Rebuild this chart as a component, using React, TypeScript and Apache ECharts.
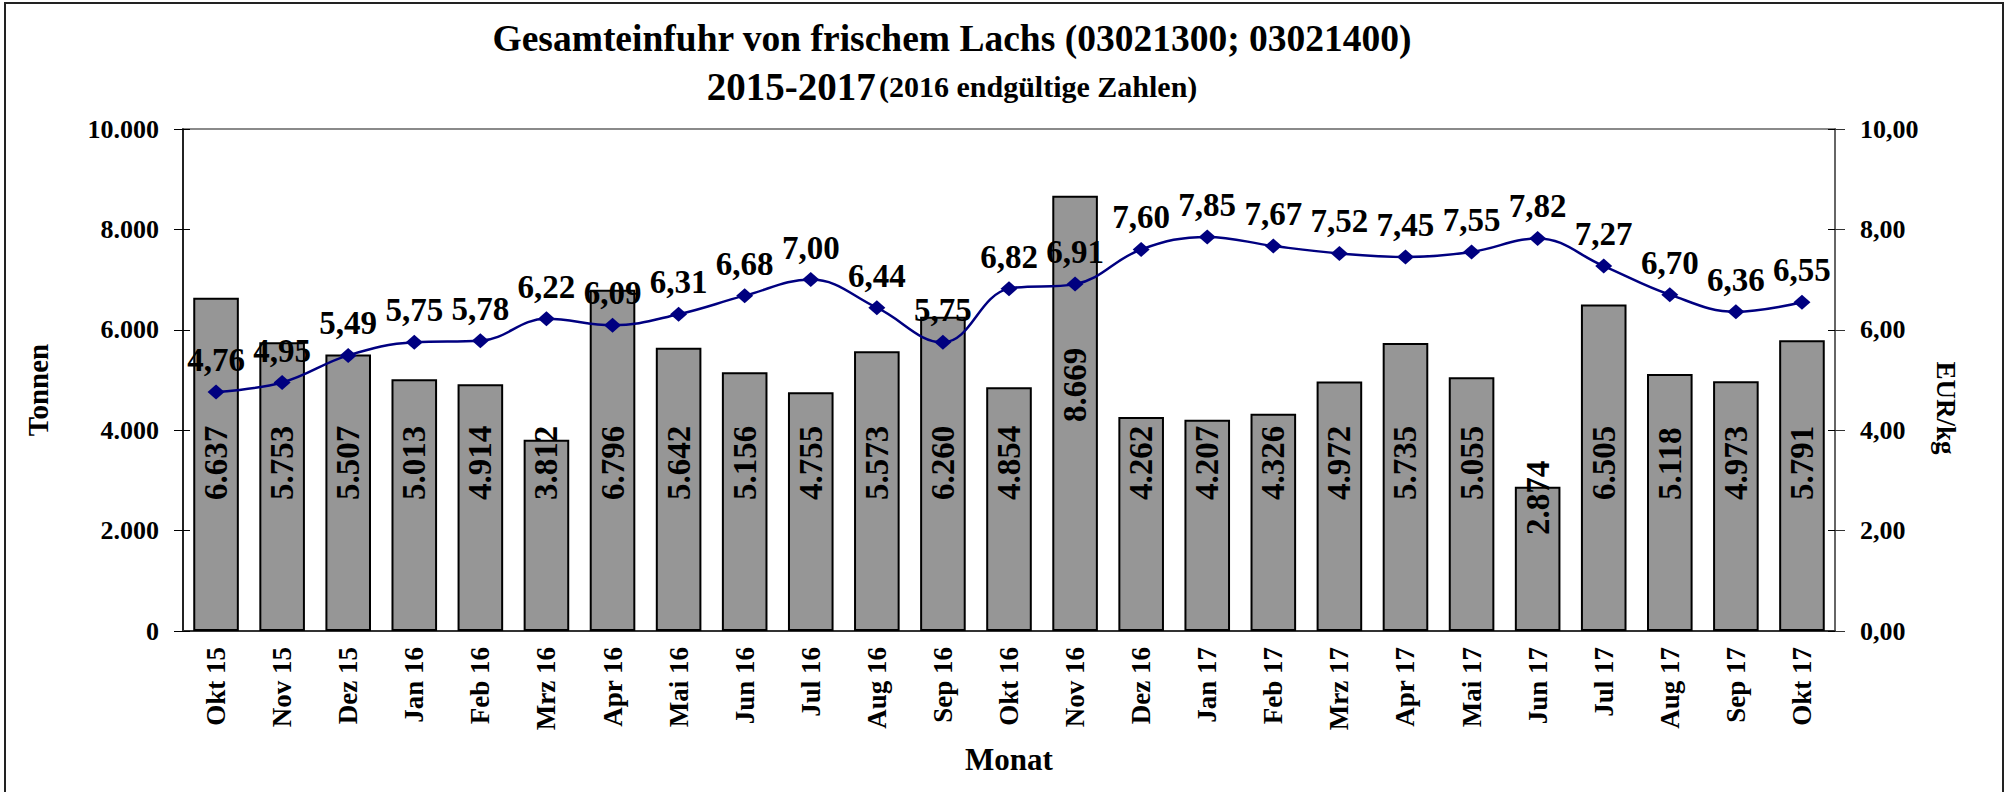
import React, { useEffect, useRef } from "react";
import * as echarts from "echarts";

const categories = [
  "Okt 15", "Nov 15", "Dez 15", "Jan 16", "Feb 16", "Mrz 16", "Apr 16", "Mai 16",
  "Jun 16", "Jul 16", "Aug 16", "Sep 16", "Okt 16", "Nov 16", "Dez 16", "Jan 17",
  "Feb 17", "Mrz 17", "Apr 17", "Mai 17", "Jun 17", "Jul 17", "Aug 17", "Sep 17", "Okt 17",
];
const tonnen = [
  6637, 5753, 5507, 5013, 4914, 3812, 6796, 5642, 5156, 4755, 5573, 6260, 4854,
  8669, 4262, 4207, 4326, 4972, 5735, 5055, 2874, 6505, 5118, 4973, 5791,
];
const preis = [
  4.76, 4.95, 5.49, 5.75, 5.78, 6.22, 6.09, 6.31, 6.68, 7.0, 6.44, 5.75, 6.82,
  6.91, 7.6, 7.85, 7.67, 7.52, 7.45, 7.55, 7.82, 7.27, 6.7, 6.36, 6.55,
];

const FONT = "'Liberation Serif', 'Times New Roman', serif";

const fmtThousands = (v: number) =>
  String(Math.round(v)).replace(/\B(?=(\d{3})+(?!\d))/g, ".");
const fmtComma = (v: number) => v.toFixed(2).replace(".", ",");

export default function App() {
  const ref = useRef<HTMLDivElement>(null);
  useEffect(() => {
    document.body.style.margin = "0";
    const chart = echarts.init(ref.current!, undefined, { renderer: "svg" });
    // label lift (px above the bar base) for the two bars whose labels were moved
    const labelLift: Record<number, number> = { 13: 209, 20: 96 };
    const barData = tonnen.map((v, i) =>
      labelLift[i] !== undefined
        ? { value: v, label: { offset: [labelLift[i], 0] } }
        : v
    );
    const innerTicks = (min: number, max: number, interval: number, position: string) => ({
      type: "value",
      min,
      max,
      interval,
      position,
      axisLine: { show: false },
      axisTick: { show: true, inside: true, length: 7, lineStyle: { color: "#000" } },
      axisLabel: { show: false },
      splitLine: { show: false },
    });
    chart.setOption({
      animation: false,
      backgroundColor: "#fff",
      graphic: [
        {
          type: "rect",
          shape: { x: 5, y: 3, width: 1998, height: 820 },
          style: { fill: "none", stroke: "#222", lineWidth: 2 },
          silent: true,
        },
        {
          type: "text",
          x: 952,
          y: 38,
          style: {
            text: "Gesamteinfuhr von frischem Lachs (03021300; 03021400)",
            fontFamily: FONT,
            fontWeight: "bold",
            fontSize: 37.5,
            fill: "#000",
            align: "center",
            verticalAlign: "middle",
          },
        },
        {
          type: "text",
          x: 952,
          y: 86,
          style: {
            text: "{a|2015-2017} {b|(2016 endgültige Zahlen)}",
            align: "center",
            verticalAlign: "middle",
            rich: {
              a: { fontFamily: FONT, fontWeight: "bold", fontSize: 39, fill: "#000" },
              b: { fontFamily: FONT, fontWeight: "bold", fontSize: 30, fill: "#000" },
            },
          },
        },
        {
          type: "text",
          x: 38,
          y: 390,
          rotation: Math.PI / 2,
          style: {
            text: "Tonnen",
            fontFamily: FONT,
            fontWeight: "bold",
            fontSize: 29,
            fill: "#000",
            align: "center",
            verticalAlign: "middle",
          },
        },
        {
          type: "text",
          x: 1946,
          y: 408,
          rotation: -Math.PI / 2,
          style: {
            text: "EUR/kg",
            fontFamily: FONT,
            fontWeight: "bold",
            fontSize: 27,
            fill: "#000",
            align: "center",
            verticalAlign: "middle",
          },
        },
      ],
      grid: {
        left: 183,
        right: 173,
        top: 129,
        bottom: 161,
        show: true,
        borderColor: "#8a8a8a",
        borderWidth: 2,
      },
      xAxis: {
        type: "category",
        data: categories,
        name: "Monat",
        nameLocation: "middle",
        nameGap: 113,
        nameTextStyle: { fontFamily: FONT, fontWeight: "bold", fontSize: 31, color: "#000" },
        axisLine: { lineStyle: { color: "#333", width: 2 } },
        axisTick: { show: false },
        axisLabel: {
          rotate: 90,
          margin: 16,
          fontFamily: FONT,
          fontWeight: "bold",
          fontSize: 27,
          color: "#000",
          interval: 0,
        },
      },
      yAxis: [
        {
          type: "value",
          min: 0,
          max: 10000,
          interval: 2000,
          position: "left",
          axisLine: { show: true, lineStyle: { color: "#000", width: 1.5 } },
          axisTick: { show: true, length: 9, lineStyle: { color: "#000" } },
          splitLine: { show: false },
          axisLabel: {
            margin: 24,
            fontFamily: FONT,
            fontWeight: "bold",
            fontSize: 26,
            color: "#000",
            formatter: (v: number) => fmtThousands(v),
          },
        },
        {
          type: "value",
          min: 0,
          max: 10,
          interval: 2,
          position: "right",
          axisLine: { show: true, lineStyle: { color: "#666", width: 2 } },
          axisTick: { show: true, length: 10, lineStyle: { color: "#333" } },
          splitLine: { show: false },
          axisLabel: {
            margin: 25,
            fontFamily: FONT,
            fontWeight: "bold",
            fontSize: 26,
            color: "#000",
            formatter: (v: number) => fmtComma(v),
          },
        },
        innerTicks(0, 10000, 2000, "left"),
        innerTicks(0, 10, 2, "right"),
      ],
      series: [
        {
          type: "bar",
          yAxisIndex: 0,
          data: barData,
          barCategoryGap: "31%",
          itemStyle: { color: "#969696", borderColor: "#000", borderWidth: 2 },
          label: {
            show: true,
            position: ["50%", "100%"],
            offset: [131, 0],
            rotate: 90,
            align: "left",
            verticalAlign: "middle",
            fontFamily: FONT,
            fontWeight: "bold",
            fontSize: 33,
            color: "#000",
            formatter: (p: any) => fmtThousands(p.value),
          },
          z: 2,
        },
        {
          type: "line",
          yAxisIndex: 1,
          data: preis,
          smooth: 0.4,
          symbol: "diamond",
          symbolSize: [17, 15],
          lineStyle: { color: "#000080", width: 2.5 },
          itemStyle: { color: "#000080" },
          label: {
            show: true,
            position: "top",
            distance: 8,
            fontFamily: FONT,
            fontWeight: "bold",
            fontSize: 33,
            color: "#000",
            formatter: (p: any) => fmtComma(p.value),
          },
          z: 3,
        },
      ],
    });
    return () => chart.dispose();
  }, []);
  return <div ref={ref} style={{ width: 2008, height: 792 }} />;
}
